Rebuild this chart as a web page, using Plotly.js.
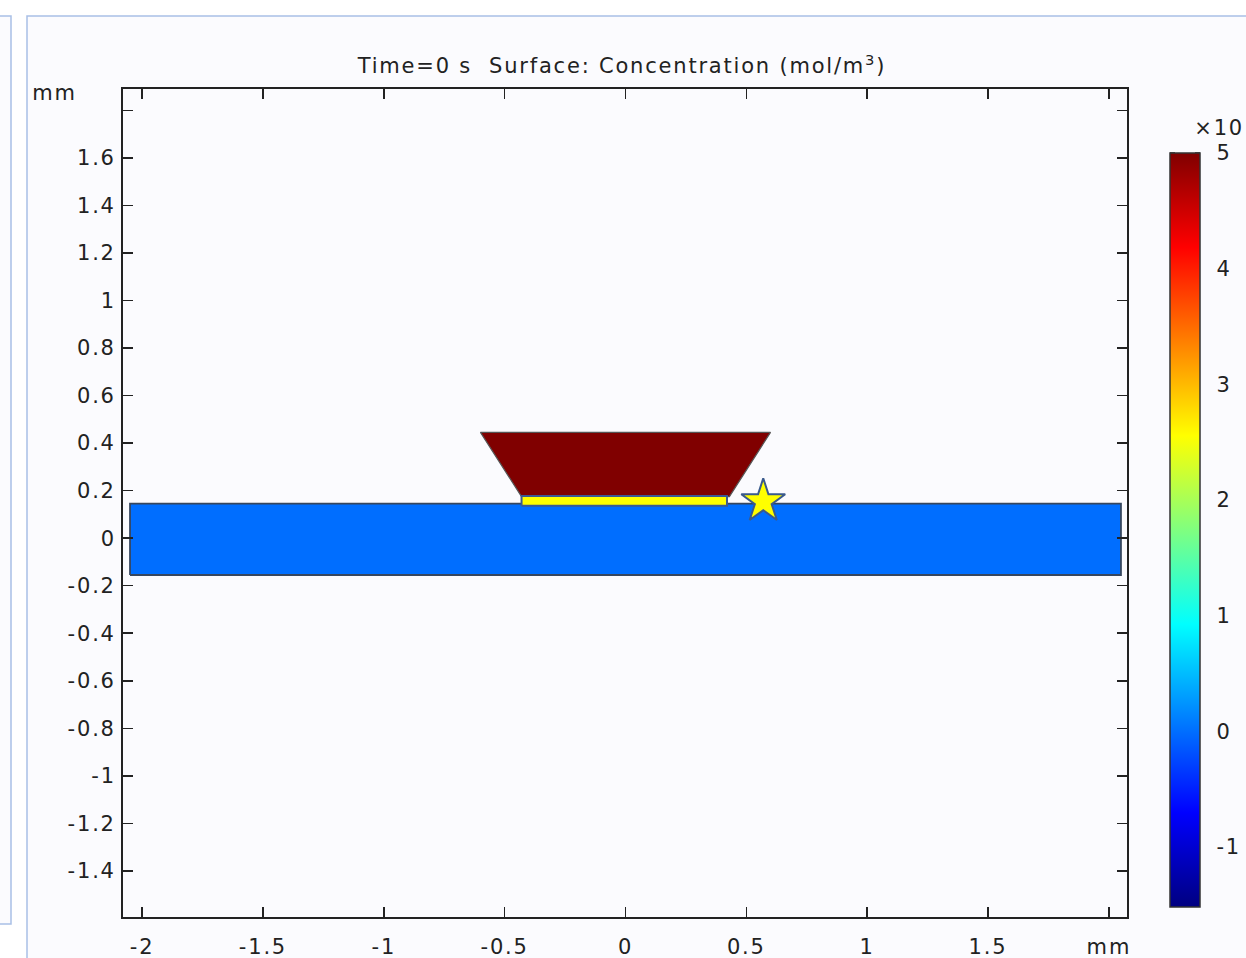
<!DOCTYPE html>
<html>
<head>
<meta charset="utf-8">
<script src="https://cdn.plot.ly/plotly-3.0.1.min.js"></script>
<style>
  html, body { margin: 0; padding: 0; background: #ffffff; }
  #plot { width: 1246px; height: 958px; }
  /* the viewer font runs wide */
  #plot svg text { letter-spacing: 1.8px; }
</style>
</head>
<body>
<div id="plot"></div>
<script>
// Axis ticks (mm)
const xTickVals = [-2, -1.5, -1, -0.5, 0, 0.5, 1, 1.5, 2];
const xTickText = ['-2', '-1.5', '-1', '-0.5', '0', '0.5', '1', '1.5', 'mm'];
const yTickVals = [-1.4, -1.2, -1, -0.8, -0.6, -0.4, -0.2, 0, 0.2, 0.4, 0.6, 0.8, 1, 1.2, 1.4, 1.6];
const yTickText = ['-1.4', '-1.2', '-1', '-0.8', '-0.6', '-0.4', '-0.2', '0', '0.2', '0.4', '0.6', '0.8', '1', '1.2', '1.4', '1.6'];
const yUnlabelledTicks = [1.8];

// Geometry (mm): substrate slab, reservoir trapezoid, electrode strip, probe point
const substrateX = [-2.05, 2.05, 2.05, -2.05, -2.05];
const substrateY = [-0.155, -0.155, 0.145, 0.145, -0.155];
const reservoirX = [-0.43, 0.43, 0.6, -0.6, -0.43];
const reservoirY = [0.175, 0.175, 0.445, 0.445, 0.175];
const electrodeX = [-0.43, 0.42, 0.42, -0.43, -0.43];
const electrodeY = [0.136, 0.136, 0.177, 0.177, 0.136];
const probeX = [0.57];
const probeY = [0.155];

// Surface concentration of each domain at t = 0
const domainNames = ['substrate', 'reservoir'];
const domainConc = [0, 5];

// Colour range and colour bar ticks
const cMin = -1.52;
const cMax = 5;
const cbarTicks = [-1, 0, 1, 2, 3, 4, 5];

const jet = [
  [0, '#000080'], [0.125, '#0000ff'], [0.375, '#00ffff'],
  [0.625, '#ffff00'], [0.875, '#ff0000'], [1, '#800000']
];

function hexToRgb(h) {
  return [parseInt(h.slice(1, 3), 16), parseInt(h.slice(3, 5), 16), parseInt(h.slice(5, 7), 16)];
}
function colorFor(v) {
  const t = Math.min(1, Math.max(0, (v - cMin) / (cMax - cMin)));
  for (let i = 1; i < jet.length; i++) {
    if (t <= jet[i][0]) {
      const a = jet[i - 1], b = jet[i];
      const f = (t - a[0]) / (b[0] - a[0]);
      const ca = hexToRgb(a[1]), cb = hexToRgb(b[1]);
      const c = ca.map((x, k) => Math.round(x + (cb[k] - x) * f));
      return 'rgb(' + c.join(',') + ')';
    }
  }
  return jet[jet.length - 1][1];
}

const FONT = 'DejaVu Sans, Verdana, sans-serif';
const FS = 21;
const TXT = '#222222';

const traces = [
  {
    type: 'scatter', mode: 'lines', x: substrateX, y: substrateY,
    fill: 'toself', fillcolor: colorFor(domainConc[0]),
    line: { color: '#36465e', width: 1.8 }, hoverinfo: 'skip'
  },
  {
    type: 'scatter', mode: 'lines', x: reservoirX, y: reservoirY,
    fill: 'toself', fillcolor: colorFor(domainConc[1]),
    line: { color: '#555555', width: 1.2 }, hoverinfo: 'skip'
  },
  {
    type: 'scatter', mode: 'lines', x: electrodeX, y: electrodeY,
    fill: 'toself', fillcolor: '#ffff00',
    line: { color: '#3a5a94', width: 2 }, hoverinfo: 'skip'
  },
  {
    type: 'scatter', mode: 'markers', x: probeX, y: probeY,
    marker: { symbol: 'star', size: 33, color: '#ffff00', line: { color: '#3a5a8c', width: 2 } },
    hoverinfo: 'skip'
  },
  // carries the colour bar for the concentration scale
  {
    type: 'scatter', mode: 'markers', x: [0, 0], y: [0, 0.3],
    text: domainNames,
    marker: {
      color: domainConc, cmin: cMin, cmax: cMax, colorscale: jet, opacity: 0, size: 1,
      showscale: true,
      colorbar: {
        thickness: 30, thicknessmode: 'pixels',
        len: 754, lenmode: 'pixels',
        x: (1170 - 123) / 1004, xanchor: 'left', xpad: 0,
        y: (917 - 153) / 828, yanchor: 'top', ypad: 0,
        outlinecolor: '#333333', outlinewidth: 1.5,
        tickvals: cbarTicks, ticktext: cbarTicks.map(String),
        // transparent outside ticks push the labels clear of the bar
        ticks: 'outside', ticklen: 12, tickcolor: 'rgba(0,0,0,0)',
        tickfont: { family: FONT, size: FS, color: TXT }
      }
    },
    hoverinfo: 'skip'
  }
];

// short tick marks on both inner edges of the colour bar
const cbTop = (917 - 153) / 828, cbBot = (917 - 907) / 828;
const cbLeft = (1170 - 123) / 1004, cbRight = (1200 - 123) / 1004;
const cbShapes = [];
cbarTicks.forEach(v => {
  const yy = cbBot + (v - cMin) / (cMax - cMin) * (cbTop - cbBot);
  cbShapes.push({ type: 'line', xref: 'paper', yref: 'paper', x0: cbLeft, x1: cbLeft + 5 / 1004, y0: yy, y1: yy,
                  line: { color: '#222222', width: 1.5 } });
  cbShapes.push({ type: 'line', xref: 'paper', yref: 'paper', x0: cbRight - 5 / 1004, x1: cbRight, y0: yy, y1: yy,
                  line: { color: '#222222', width: 1.5 } });
});

const layout = {
  width: 1246, height: 958,
  margin: { l: 123, r: 119, t: 89, b: 41, autoexpand: false },
  paper_bgcolor: '#ffffff',
  plot_bgcolor: 'rgba(0,0,0,0)',
  showlegend: false,
  hovermode: false,
  font: { family: FONT, size: FS, color: TXT },
  title: {
    text: 'Time=0 s\u00a0\u00a0Surface: Concentration (mol/m<sup>3</sup>)',
    font: { family: FONT, size: FS, color: TXT },
    x: (622 - 123) / 1004, xref: 'paper', xanchor: 'center',
    y: 1 - 66 / 958, yref: 'container', yanchor: 'middle'
  },
  xaxis: {
    range: [-2.079, 2.075], tickmode: 'array', tickvals: xTickVals, ticktext: xTickText,
    ticks: 'inside', ticklen: 10, tickwidth: 1.5, tickcolor: '#222222',
    showline: true, linecolor: '#222222', linewidth: 2, mirror: 'allticks',
    showgrid: false, zeroline: false, fixedrange: true, automargin: false,
    ticklabelstandoff: 10,
    tickfont: { family: FONT, size: FS, color: TXT }
  },
  yaxis: {
    range: [-1.594, 1.890], tickmode: 'array', tickvals: yTickVals, ticktext: yTickText,
    ticks: 'inside', ticklen: 10, tickwidth: 1.5, tickcolor: '#222222',
    minor: { tickmode: 'array', tickvals: yUnlabelledTicks, ticks: 'inside', ticklen: 10, tickwidth: 1.5, tickcolor: '#222222' },
    showline: true, linecolor: '#222222', linewidth: 2, mirror: 'allticks',
    showgrid: false, zeroline: false, fixedrange: true, automargin: false,
    ticklabelstandoff: 1,
    tickfont: { family: FONT, size: FS, color: TXT }
  },
  shapes: [
    // window panels
    { type: 'rect', xref: 'paper', yref: 'paper', layer: 'below',
      x0: (27 - 123) / 1004, x1: (1260 - 123) / 1004, y0: (917 - 975) / 828, y1: (917 - 16) / 828,
      fillcolor: '#fbfbfe', line: { color: '#a9c0e6', width: 1.5 } },
    { type: 'rect', xref: 'paper', yref: 'paper', layer: 'below',
      x0: (-10 - 123) / 1004, x1: (11 - 123) / 1004, y0: (917 - 924) / 828, y1: (917 - 16) / 828,
      fillcolor: '#fbfbfe', line: { color: '#a9c0e6', width: 1.5 } }
  ].concat(cbShapes),
  annotations: [
    { text: 'mm', xref: 'paper', yref: 'paper', x: (54 - 123) / 1004, y: (917 - 93) / 828,
      xanchor: 'center', yanchor: 'middle', showarrow: false, font: { family: FONT, size: FS, color: TXT } },
    { text: '×10', xref: 'paper', yref: 'paper', x: (1195 - 123) / 1004, y: (917 - 128) / 828,
      xanchor: 'left', yanchor: 'middle', showarrow: false, font: { family: FONT, size: FS, color: TXT } }
  ]
};

Plotly.newPlot('plot', traces, layout, { staticPlot: true, displayModeBar: false });
</script>
</body>
</html>
